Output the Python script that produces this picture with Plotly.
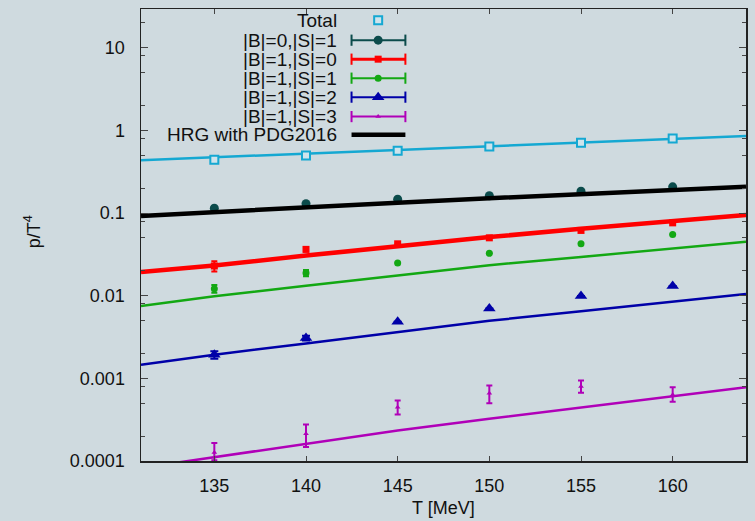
import plotly.graph_objects as go

# ---------------- data ----------------
T_pts = [135, 140, 145, 150, 155, 160]
T_line = [131, 135, 140, 145, 150, 155, 160, 164]

total_pts = [0.443, 0.499, 0.569, 0.640, 0.710, 0.800]
total_line = [0.4365, 0.473, 0.525, 0.581, 0.644, 0.713, 0.791, 0.857]

b0s1_pts = [0.1146, 0.1298, 0.1470, 0.1620, 0.1837, 0.208]
hrg_line = [0.0925, 0.1019, 0.1164, 0.1334, 0.1511, 0.1698, 0.1909, 0.209]

b1s0_pts = [0.0229, 0.0364, 0.0425, 0.0502, 0.0617, 0.0762]
b1s0_err = [0.0033, 0.0020, 0.0, 0.0, 0.0, 0.0]
b1s0_line = [0.01936, 0.0232, 0.0306, 0.0399, 0.0513, 0.0646, 0.0798, 0.0951]

b1s1_pts = [0.01219, 0.01884, 0.02489, 0.0326, 0.0425, 0.0552]
b1s1_err = [0.0013, 0.0016, 0.0, 0.0, 0.0, 0.0]
b1s1_line = [0.00753, 0.00984, 0.01318, 0.01763, 0.02344, 0.02951, 0.0373, 0.0450]

b1s2_pts = [0.00193, 0.00308, 0.00483, 0.00700, 0.00995, 0.0131]
b1s2_err = [0.0002, 0.0002, 0.0, 0.0, 0.0, 0.0]
b1s2_line = [0.001466, 0.00193, 0.00265, 0.00364, 0.00497, 0.0065, 0.00851, 0.0105]

b1s3_pts = [1.27e-4, 2.14e-4, 4.48e-4, 6.61e-4, 7.96e-4, 6.32e-4]
b1s3_err_plus = [0.38e-4, 0.63e-4, 0.90e-4, 1.58e-4, 1.44e-4, 1.48e-4]
b1s3_err_minus = [0.25e-4, 0.66e-4, 0.82e-4, 1.61e-4, 1.28e-4, 1.12e-4]
b1s3_line = [8.26e-5, 1.117e-4, 1.63e-4, 2.34e-4, 3.24e-4, 4.43e-4, 6.08e-4, 7.80e-4]

y_tickvals = [1e-4, 1e-3, 1e-2, 1e-1, 1, 10]
y_ticktext = ["0.0001", "0.001", "0.01", "0.1", "1", "10"]
x_tickvals = [135, 140, 145, 150, 155, 160]

legend_labels = ["Total", "|B|=0,|S|=1", "|B|=1,|S|=0", "|B|=1,|S|=1",
                 "|B|=1,|S|=2", "|B|=1,|S|=3", "HRG with PDG2016"]

# ---------------- styles ----------------
CYAN = "#15a8d2"
TEAL = "#0b4b4b"
RED = "#ff0000"
GREEN = "#13a813"
BLUE = "#0000a8"
MAG = "#b000b8"
BG = "#cfdadf"
FONT = "Liberation Sans"

fig = go.Figure()

# model lines (coloured)
for vals, col, w in [(total_line, CYAN, 2.5), (b1s0_line, RED, 4.5),
                     (b1s1_line, GREEN, 2.5), (b1s2_line, BLUE, 2.5),
                     (b1s3_line, MAG, 2.5)]:
    fig.add_trace(go.Scatter(x=T_line, y=vals, mode="lines",
                             line=dict(color=col, width=w), showlegend=False))

# data points
fig.add_trace(go.Scatter(x=T_pts, y=total_pts, mode="markers",
                         marker=dict(symbol="square", size=8, color="#cfe4ec",
                                     line=dict(color=CYAN, width=2)),
                         showlegend=False))
fig.add_trace(go.Scatter(x=T_pts, y=b0s1_pts, mode="markers",
                         marker=dict(symbol="circle", size=9, color=TEAL),
                         showlegend=False))
fig.add_trace(go.Scatter(x=T_pts, y=b1s0_pts, mode="markers",
                         marker=dict(symbol="square", size=7, color=RED),
                         error_y=dict(type="data", array=b1s0_err, color=RED,
                                      thickness=2, width=3),
                         showlegend=False))
fig.add_trace(go.Scatter(x=T_pts, y=b1s1_pts, mode="markers",
                         marker=dict(symbol="circle", size=7, color=GREEN),
                         error_y=dict(type="data", array=b1s1_err, color=GREEN,
                                      thickness=2, width=3),
                         showlegend=False))
fig.add_trace(go.Scatter(x=T_pts, y=b1s2_pts, mode="markers",
                         marker=dict(symbol="triangle-up", size=11, color=BLUE),
                         error_y=dict(type="data", array=b1s2_err, color=BLUE,
                                      thickness=2, width=4),
                         showlegend=False))
fig.add_trace(go.Scatter(x=T_pts, y=b1s3_pts, mode="markers",
                         marker=dict(symbol="triangle-up", size=5, color=MAG),
                         error_y=dict(type="data", symmetric=False,
                                      array=b1s3_err_plus,
                                      arrayminus=b1s3_err_minus,
                                      color=MAG, thickness=2, width=3),
                         showlegend=False))

# HRG black line on top
fig.add_trace(go.Scatter(x=T_line, y=hrg_line, mode="lines",
                         line=dict(color="black", width=4.5), showlegend=False))

# ---------------- custom gnuplot-style key ----------------
key_y = [0.975, 0.931, 0.889, 0.847, 0.805, 0.762, 0.722]
kx0, kx1, kxc = 0.348, 0.437, 0.392
key_styles = [
    (CYAN, None, dict(symbol="square", size=8, color="#cfe4ec", line=dict(color=CYAN, width=2))),
    (TEAL, 2, dict(symbol="circle", size=9, color=TEAL)),
    (RED, 3, dict(symbol="square", size=7, color=RED)),
    (GREEN, 2, dict(symbol="circle", size=7, color=GREEN)),
    (BLUE, 2, dict(symbol="triangle-up", size=11, color=BLUE)),
    (MAG, 2, dict(symbol="triangle-up", size=5, color=MAG)),
]
for (col, lw, mk), yy in zip(key_styles, key_y):
    if lw is not None:
        fig.add_trace(go.Scatter(x=[kx0, kx1], y=[yy, yy], mode="lines+markers",
                                 line=dict(color=col, width=lw),
                                 marker=dict(symbol="line-ns", size=8,
                                             line=dict(color=col, width=2)),
                                 xaxis="x2", yaxis="y2", showlegend=False,
                                 hoverinfo="skip"))
    fig.add_trace(go.Scatter(x=[kxc], y=[yy], mode="markers", marker=mk,
                             xaxis="x2", yaxis="y2", showlegend=False,
                             hoverinfo="skip"))
fig.add_trace(go.Scatter(x=[kx0, kx1], y=[key_y[6], key_y[6]], mode="lines",
                         line=dict(color="black", width=4.5),
                         xaxis="x2", yaxis="y2", showlegend=False,
                         hoverinfo="skip"))

annotations = []
for lab, yy in zip(legend_labels, key_y):
    annotations.append(dict(text=lab, xref="x2", yref="y2", x=0.327, y=yy,
                            xanchor="right", yanchor="middle", showarrow=False,
                            font=dict(family=FONT, size=19, color="#111")))
annotations.append(dict(text="T [MeV]", xref="paper", yref="paper", x=0.5,
                        y=-0.103, xanchor="center", yanchor="middle",
                        showarrow=False,
                        font=dict(family=FONT, size=18, color="#111")))
annotations.append(dict(text="p/T<sup>4</sup>", xref="paper", yref="paper",
                        x=-0.178, y=0.507, xanchor="center", yanchor="middle",
                        textangle=-90, showarrow=False,
                        font=dict(family=FONT, size=18, color="#111")))

minor_vals = []
for e in range(-4, 2):
    for m in (2, 5, 8):
        minor_vals.append(m * 10.0 ** e)

fig.update_layout(
    width=755, height=521,
    margin=dict(l=141, r=8, t=7, b=60),
    paper_bgcolor=BG, plot_bgcolor=BG,
    font=dict(family=FONT, size=18, color="#111"),
    showlegend=False,
    hovermode=False,
    annotations=annotations,
    xaxis=dict(range=[131, 164], tickmode="array", tickvals=x_tickvals,
               ticks="inside", ticklen=5, tickwidth=1, tickcolor="#444",
               showline=True, linecolor="#222", linewidth=1.5, mirror="ticks",
               showgrid=False, zeroline=False, ticklabelstandoff=8,
               tickfont=dict(family=FONT, size=18, color="#111")),
    yaxis=dict(type="log", range=[-4, 1.47], tickmode="array",
               tickvals=y_tickvals, ticktext=y_ticktext,
               ticks="inside", ticklen=7, tickwidth=1, tickcolor="#444",
               showline=True, linecolor="#222", linewidth=1.5, mirror="ticks",
               showgrid=False, zeroline=False, ticklabelstandoff=11,
               minor=dict(tickmode="array", tickvals=minor_vals, ticks="inside",
                          ticklen=4, tickcolor="#444", showgrid=False),
               tickfont=dict(family=FONT, size=18, color="#111")),
    xaxis2=dict(overlaying="x", anchor="y2", range=[0, 1], visible=False),
    yaxis2=dict(overlaying="y", anchor="x2", range=[0, 1], visible=False),
)

fig.write_html("out.html",
               config={"displayModeBar": False, "staticPlot": True},
               post_script="document.body.style.margin='0px';"
                           "document.body.style.overflow='hidden';")
